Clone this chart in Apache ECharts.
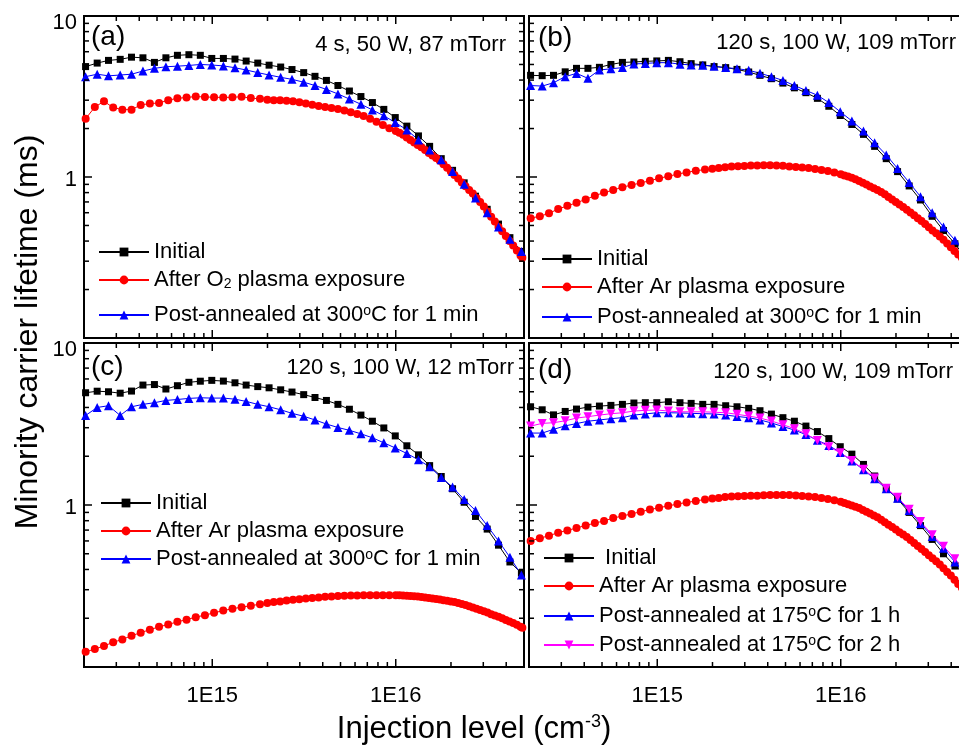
<!DOCTYPE html>
<html><head><meta charset="utf-8">
<script src="https://cdn.jsdelivr.net/npm/echarts@6/dist/echarts.min.js"></script>
<style>html,body{margin:0;padding:0;background:#fff}#c{width:959px;height:746px}</style>
</head><body><div id="c"></div>
<script>
// ---------------- data ----------------
const X_COARSE = [2.04e14, 2.36e14, 2.72e14, 3.15e14, 3.63e14, 4.19e14, 4.84e14, 5.59e14, 6.46e14, 7.46e14, 8.61e14, 9.94e14, 1.15e15, 1.33e15, 1.53e15, 1.77e15, 2.04e15, 2.36e15, 2.72e15, 3.15e15, 3.63e15, 4.19e15, 4.84e15, 5.59e15, 6.46e15, 7.46e15, 8.61e15, 9.94e15, 1.15e16, 1.33e16, 1.53e16, 1.77e16, 2.04e16, 2.36e16, 2.72e16, 3.15e16, 3.63e16, 4.19e16, 4.84e16];
const X_FINE = [2.042e14, 2.291e14, 2.570e14, 2.884e14, 3.236e14, 3.631e14, 4.074e14, 4.571e14, 5.129e14, 5.754e14, 6.457e14, 7.244e14, 8.128e14, 9.120e14, 1.023e15, 1.148e15, 1.288e15, 1.445e15, 1.622e15, 1.820e15,
  1.995e15, 2.163e15, 2.344e15, 2.541e15, 2.754e15, 2.985e15, 3.236e15, 3.508e15, 3.802e15, 4.121e15, 4.467e15, 4.842e15, 5.248e15, 5.689e15, 6.166e15, 6.683e15, 7.244e15, 7.852e15, 8.511e15, 9.226e15,
  1.000e16, 1.047e16, 1.096e16, 1.148e16, 1.202e16, 1.259e16, 1.318e16, 1.380e16, 1.445e16, 1.514e16, 1.585e16, 1.660e16, 1.738e16, 1.820e16, 1.905e16, 1.995e16, 2.089e16, 2.188e16, 2.291e16, 2.399e16, 2.512e16, 2.630e16, 2.754e16, 2.884e16, 3.020e16, 3.162e16, 3.311e16, 3.467e16, 3.631e16, 3.802e16, 3.981e16, 4.169e16, 4.365e16, 4.571e16, 4.786e16, 4.898e16];

// (a) 4 s, 50 W, 87 mTorr
const A_INITIAL = [4.85, 5.1, 5.3, 5.38, 5.55, 5.5, 5.15, 5.5, 5.7, 5.75, 5.7, 5.45, 5.45, 5.4, 5.25, 5.1, 4.95, 4.82, 4.65, 4.45, 4.22, 3.98, 3.7, 3.42, 3.16, 2.9, 2.63, 2.34, 2.07, 1.8, 1.55, 1.3, 1.1, 0.92, 0.76, 0.63, 0.51, 0.42, 0.345];
const A_O2 = [2.3, 2.72, 2.95, 2.7, 2.62, 2.62, 2.8, 2.86, 2.88, 3.0, 3.08, 3.12, 3.16, 3.14, 3.13, 3.12, 3.13, 3.15, 3.09, 3.06,
  3.02, 3.0, 3.0, 2.98, 2.95, 2.91, 2.86, 2.81, 2.76, 2.72, 2.68, 2.64, 2.59, 2.52, 2.46, 2.39, 2.3, 2.2, 2.1, 2.01,
  1.93, 1.88, 1.83, 1.76, 1.7, 1.64, 1.58, 1.53, 1.47, 1.41, 1.36, 1.31, 1.26, 1.2, 1.14, 1.08, 1.03, 0.98, 0.925, 0.875, 0.83, 0.79, 0.74, 0.7, 0.655, 0.61, 0.567, 0.53, 0.49, 0.46, 0.43, 0.4, 0.375, 0.35, 0.325, 0.315];
const A_POST = [4.2, 4.35, 4.25, 4.3, 4.35, 4.55, 4.73, 4.84, 4.88, 4.93, 5.0, 4.96, 4.9, 4.77, 4.62, 4.45, 4.3, 4.16, 4.04, 3.88, 3.7, 3.5, 3.28, 3.05, 2.83, 2.61, 2.4, 2.18, 1.96, 1.7, 1.47, 1.28, 1.08, 0.9, 0.74, 0.6, 0.49, 0.41, 0.345];

// (b) 120 s, 100 W, 109 mTorr
const B_INITIAL = [4.28, 4.26, 4.28, 4.5, 4.73, 4.73, 4.8, 5.0, 5.15, 5.18, 5.23, 5.26, 5.3, 5.2, 5.06, 4.97, 4.85, 4.78, 4.66, 4.49, 4.28, 4.08, 3.83, 3.58, 3.34, 3.08, 2.75, 2.41, 2.12, 1.84, 1.55, 1.3, 1.08, 0.88, 0.72, 0.57, 0.465, 0.385, 0.31];
const B_AR = [0.555, 0.57, 0.595, 0.632, 0.662, 0.692, 0.726, 0.766, 0.8, 0.829, 0.865, 0.891, 0.919, 0.948, 0.982, 1.01, 1.042, 1.068, 1.093, 1.112,
  1.125, 1.139, 1.15, 1.16, 1.167, 1.172, 1.177, 1.18, 1.183, 1.181, 1.179, 1.175, 1.163, 1.155, 1.147, 1.137, 1.123, 1.104, 1.088, 1.066,
  1.039, 1.023, 1.007, 0.989, 0.968, 0.945, 0.922, 0.898, 0.873, 0.851, 0.829, 0.806, 0.78, 0.752, 0.726, 0.7, 0.675, 0.651, 0.625, 0.601, 0.578, 0.555, 0.533, 0.51, 0.488, 0.466, 0.447, 0.427, 0.407, 0.386, 0.366, 0.347, 0.33, 0.315, 0.3, 0.293];
const B_POST = [3.7, 3.67, 3.85, 4.2, 4.4, 4.1, 4.62, 4.7, 4.78, 5.04, 5.07, 5.13, 5.13, 5.02, 4.97, 4.95, 4.88, 4.78, 4.71, 4.6, 4.41, 4.2, 3.98, 3.7, 3.45, 3.22, 2.9, 2.54, 2.23, 1.93, 1.63, 1.37, 1.13, 0.925, 0.755, 0.6, 0.49, 0.405, 0.325];

// (c) 120 s, 100 W, 12 mTorr
const C_INITIAL = [4.93, 5.04, 5.0, 4.9, 5.05, 5.5, 5.54, 5.2, 5.45, 5.72, 5.81, 5.88, 5.82, 5.68, 5.5, 5.38, 5.29, 5.14, 4.98, 4.8, 4.61, 4.42, 4.18, 3.9, 3.59, 3.29, 2.99, 2.67, 2.32, 2.04, 1.75, 1.5, 1.26, 1.04, 0.85, 0.71, 0.565, 0.445, 0.38];
const C_AR = [0.124, 0.129, 0.135, 0.142, 0.148, 0.156, 0.163, 0.17, 0.177, 0.183, 0.19, 0.196, 0.203, 0.209, 0.216, 0.223, 0.229, 0.234, 0.239, 0.244,
  0.248, 0.252, 0.254, 0.257, 0.26, 0.262, 0.265, 0.267, 0.269, 0.271, 0.272, 0.274, 0.275, 0.276, 0.276, 0.277, 0.277, 0.277, 0.277, 0.277,
  0.277, 0.277, 0.276, 0.275, 0.274, 0.273, 0.272, 0.27, 0.269, 0.267, 0.265, 0.263, 0.261, 0.258, 0.256, 0.254, 0.252, 0.248, 0.245, 0.241, 0.237, 0.233, 0.229, 0.225, 0.221, 0.217, 0.212, 0.208, 0.204, 0.2, 0.195, 0.191, 0.187, 0.182, 0.177, 0.175];
const C_POST = [3.57, 4.0, 4.1, 3.57, 4.04, 4.18, 4.28, 4.42, 4.48, 4.55, 4.59, 4.57, 4.57, 4.5, 4.36, 4.18, 4.04, 3.87, 3.68, 3.53, 3.35, 3.16, 3.01, 2.89, 2.75, 2.6, 2.42, 2.25, 2.08, 1.9, 1.72, 1.48, 1.29, 1.08, 0.925, 0.746, 0.6, 0.476, 0.37];

// (d) 120 s, 100 W, 109 mTorr
const D_INITIAL = [4.04, 3.87, 3.6, 3.78, 3.91, 4.02, 4.08, 4.12, 4.18, 4.26, 4.28, 4.28, 4.34, 4.28, 4.24, 4.18, 4.18, 4.1, 4.04, 3.95, 3.82, 3.64, 3.46, 3.29, 3.07, 2.84, 2.57, 2.29, 2.06, 1.78, 1.51, 1.27, 1.09, 0.9, 0.746, 0.613, 0.5, 0.42, 0.37];
const D_AR = [0.6, 0.624, 0.646, 0.675, 0.697, 0.721, 0.748, 0.773, 0.798, 0.83, 0.856, 0.881, 0.909, 0.937, 0.962, 0.988, 1.013, 1.037, 1.058, 1.083,
  1.097, 1.106, 1.12, 1.127, 1.132, 1.138, 1.141, 1.142, 1.147, 1.151, 1.152, 1.152, 1.151, 1.143, 1.137, 1.13, 1.119, 1.105, 1.089, 1.071,
  1.047, 1.029, 1.011, 0.994, 0.977, 0.957, 0.932, 0.908, 0.885, 0.862, 0.839, 0.811, 0.783, 0.756, 0.731, 0.706, 0.68, 0.658, 0.635, 0.609, 0.583, 0.559, 0.535, 0.512, 0.49, 0.469, 0.449, 0.43, 0.407, 0.386, 0.367, 0.345, 0.325, 0.308, 0.292, 0.285];
const D_POST1H = [2.78, 2.78, 2.93, 3.08, 3.18, 3.29, 3.35, 3.41, 3.46, 3.59, 3.65, 3.71, 3.71, 3.7, 3.68, 3.66, 3.65, 3.59, 3.52, 3.46, 3.35, 3.21, 3.05, 2.9, 2.72, 2.51, 2.33, 2.11, 1.87, 1.65, 1.45, 1.26, 1.1, 0.925, 0.77, 0.64, 0.54, 0.445, 0.355];
const D_POST2H = [3.07, 3.19, 3.22, 3.31, 3.44, 3.51, 3.59, 3.66, 3.71, 3.8, 3.84, 3.86, 3.8, 3.76, 3.76, 3.76, 3.74, 3.71, 3.63, 3.54, 3.44, 3.3, 3.13, 2.96, 2.75, 2.5, 2.29, 2.1, 1.88, 1.66, 1.47, 1.27, 1.115, 0.94, 0.79, 0.655, 0.557, 0.466, 0.385];

// axes
const X_MIN = 2e14, X_MAX = 5e16, Y_MIN = 0.1, Y_MAX = 10;
const X_MAJOR_TICKS = [1e15, 1e16];
const X_MINOR_TICKS = [3e14, 4e14, 5e14, 6e14, 7e14, 8e14, 9e14, 2e15, 3e15, 4e15, 5e15, 6e15, 7e15, 8e15, 9e15, 2e16, 3e16, 4e16];
const Y_MAJOR_TICKS = [1];
const Y_MINOR_TICKS = [0.2, 0.3, 0.4, 0.5, 0.6, 0.7, 0.8, 0.9, 2, 3, 4, 5, 6, 7, 8, 9];
const PANEL_LABELS = ['(a)', '(b)', '(c)', '(d)'];
const PANEL_NOTES = ['4 s, 50 W, 87 mTorr', '120 s, 100 W, 109 mTorr', '120 s, 100 W, 12 mTorr', '120 s, 100 W, 109 mTorr'];
const N_INITIAL = 'Initial', N_O2 = 'After O2 plasma exposure', N_AR = 'After Ar plasma exposure',
      N_POST300 = 'Post-annealed at 300°C for 1 min', N_POST1H = 'Post-annealed at 175°C for 1 h', N_POST2H = 'Post-annealed at 175°C for 2 h';

// ---------------- layout / style ----------------
const FONT = 'Liberation Sans, Arial, Helvetica, sans-serif';
const GRIDS = [
  {left: 84, top: 16, width: 440, height: 322},
  {left: 529, top: 16, width: 440, height: 322},
  {left: 84, top: 343, width: 440, height: 324},
  {left: 529, top: 343, width: 440, height: 324}
];
const BLACK = '#000000', RED = '#ff0000', BLUE = '#0000ff', MAGENTA = '#ff00ff';

function pairs(xs, ys) { return ys.map((y, k) => [xs[k], y]); }
function line(name, xs, ys, gi, color, symbol, size, rotate, z) {
  return {
    type: 'line', name, xAxisIndex: gi, yAxisIndex: gi, data: pairs(xs, ys),
    symbol, symbolSize: size, symbolRotate: rotate || 0, showSymbol: true,
    lineStyle: {color, width: 1}, itemStyle: {color}, emphasis: {disabled: true},
    z: z || 2, animation: false, silent: true
  };
}

const TICK_DATA = [];
X_MAJOR_TICKS.forEach(v => TICK_DATA.push([v, 1, 0, 1]));
X_MINOR_TICKS.forEach(v => TICK_DATA.push([v, 1, 0, 0]));
Y_MAJOR_TICKS.forEach(v => TICK_DATA.push([1e15, v, 1, 1]));
Y_MINOR_TICKS.forEach(v => TICK_DATA.push([1e15, v, 1, 0]));

function renderTicks(params, api) {
  const cs = params.coordSys;
  const isY = api.value(2) === 1;
  const len = api.value(3) === 1 ? 8 : 5;
  const p = api.coord([api.value(0), api.value(1)]);
  const style = {stroke: '#000', lineWidth: 1.5};
  if (!isY) {
    return {type: 'group', children: [
      {type: 'line', shape: {x1: p[0], y1: cs.y + cs.height, x2: p[0], y2: cs.y + cs.height - len}, style},
      {type: 'line', shape: {x1: p[0], y1: cs.y, x2: p[0], y2: cs.y + len}, style}
    ]};
  }
  return {type: 'group', children: [
    {type: 'line', shape: {x1: cs.x, y1: p[1], x2: cs.x + len, y2: p[1]}, style},
    {type: 'line', shape: {x1: cs.x + cs.width, y1: p[1], x2: cs.x + cs.width - len, y2: p[1]}, style}
  ]};
}

const series = [
  line(N_INITIAL, X_COARSE, A_INITIAL, 0, BLACK, 'rect', 7),
  line(N_O2, X_FINE, A_O2, 0, RED, 'circle', 8),
  line(N_POST300, X_COARSE, A_POST, 0, BLUE, 'triangle', 9),
  line(N_INITIAL, X_COARSE, B_INITIAL, 1, BLACK, 'rect', 7),
  line(N_AR, X_FINE, B_AR, 1, RED, 'circle', 8),
  line(N_POST300, X_COARSE, B_POST, 1, BLUE, 'triangle', 9),
  line(N_INITIAL, X_COARSE, C_INITIAL, 2, BLACK, 'rect', 7),
  line(N_AR, X_FINE, C_AR, 2, RED, 'circle', 8),
  line(N_POST300, X_COARSE, C_POST, 2, BLUE, 'triangle', 9),
  line(N_INITIAL, X_COARSE, D_INITIAL, 3, BLACK, 'rect', 7),
  line(N_AR, X_FINE, D_AR, 3, RED, 'circle', 8),
  line(N_POST1H, X_COARSE, D_POST1H, 3, BLUE, 'triangle', 9),
  line(N_POST2H, X_COARSE, D_POST2H, 3, MAGENTA, 'triangle', 9, 180)
];
GRIDS.forEach((g, i) => series.push({
  type: 'custom', xAxisIndex: i, yAxisIndex: i, data: TICK_DATA, renderItem: renderTicks,
  silent: true, z: 5, clip: false, animation: false
}));

const RICH = {
  sub: {fontSize: 14, fontFamily: FONT, color: '#000', verticalAlign: 'bottom'},
  sup: {fontSize: 14, fontFamily: FONT, color: '#000', verticalAlign: 'top'}
};
function legendFmt(n) { return n.replace('O2', 'O{sub|2}').replace('°', '{sup|o}'); }
const LEGEND_ITEMS = [
  [N_INITIAL, 98, 252], [N_O2, 98, 280], [N_POST300, 98, 315],
  [N_INITIAL, 541, 259], [N_AR, 541, 287], [N_POST300, 541, 317],
  [N_INITIAL, 100, 503], [N_AR, 100, 531], [N_POST300, 100, 559],
  [N_INITIAL, 543, 558, ' '], [N_AR, 543, 586], [N_POST1H, 543, 616], [N_POST2H, 543, 645]
];
const legends = LEGEND_ITEMS.map(it => ({
  data: [it[0]], left: it[1], top: it[2] - 11, orient: 'vertical', padding: 0, itemGap: 0,
  itemWidth: 50, itemHeight: 11, selectedMode: false,
  formatter: n => (it[3] || '') + legendFmt(n),
  textStyle: {fontSize: 22, fontFamily: FONT, color: '#000', rich: RICH}
}));

const xLabelFmt = v => {
  const e = Math.log10(v);
  if (Math.abs(e - Math.round(e)) < 1e-6 && v > X_MIN * 1.01 && v < X_MAX * 0.99) return '1E' + Math.round(e);
  return '';
};
const yLabelFmt = v => {
  if (Math.abs(v - 10) < 1e-6) return '{t|10}';
  if (Math.abs(v - 1) < 1e-6) return '{o|1}';
  return '';
};

const graphic = [
  {type: 'text', x: 28, y: 332, rotation: Math.PI / 2,
   style: {text: 'Minority carrier lifetime (ms)', fontSize: 32, fontFamily: FONT, fill: '#000', align: 'center', verticalAlign: 'middle'}},
  {type: 'text', x: 474, y: 729,
   style: {text: 'Injection level (cm{sup|-3})', fontSize: 31, fontFamily: FONT, fill: '#000', align: 'center', verticalAlign: 'middle',
     rich: {sup: {fontSize: 18, fontFamily: FONT, fill: '#000', verticalAlign: 'top'}}}}
];
const LABEL_POS = [[91, 37], [538, 38], [91, 367], [538, 370]];
const NOTE_POS = [[506, 45], [956, 43], [514, 368], [953, 372]];
PANEL_LABELS.forEach((t, i) => graphic.push({type: 'text', x: LABEL_POS[i][0], y: LABEL_POS[i][1],
  style: {text: t, fontSize: 28, fontFamily: FONT, fill: '#000', align: 'left', verticalAlign: 'middle'}}));
PANEL_NOTES.forEach((t, i) => graphic.push({type: 'text', x: NOTE_POS[i][0], y: NOTE_POS[i][1],
  style: {text: t, fontSize: 22, fontFamily: FONT, fill: '#000', align: 'right', verticalAlign: 'middle'}}));

const option = {
  animation: false,
  backgroundColor: '#ffffff',
  grid: GRIDS.map(g => Object.assign({show: true, borderColor: '#000', borderWidth: 2, backgroundColor: 'transparent', containLabel: false, outerBoundsMode: 'none'}, g)),
  xAxis: GRIDS.map((g, i) => ({
    type: 'log', logBase: 10, gridIndex: i, min: X_MIN, max: X_MAX,
    axisLine: {show: false}, axisTick: {show: false}, splitLine: {show: false}, minorTick: {show: false},
    axisLabel: {show: i >= 2, formatter: xLabelFmt, fontSize: 22, fontFamily: FONT, color: '#000', margin: 18, hideOverlap: false}
  })),
  yAxis: GRIDS.map((g, i) => ({
    type: 'log', logBase: 10, gridIndex: i, min: Y_MIN, max: Y_MAX,
    axisLine: {show: false}, axisTick: {show: false}, splitLine: {show: false}, minorTick: {show: false},
    axisLabel: {show: i % 2 === 0, formatter: yLabelFmt, fontSize: 22, fontFamily: FONT, color: '#000', margin: 7,
      rich: {t: {fontSize: 22, fontFamily: FONT, color: '#000', padding: [14, 0, 0, 0]},
             o: {fontSize: 22, fontFamily: FONT, color: '#000', padding: [6, 0, 0, 0]}}}
  })),
  legend: legends,
  graphic,
  series
};
const chart = echarts.init(document.getElementById('c'), null, {renderer: 'canvas'});
chart.setOption(option);
</script>
</body></html>
